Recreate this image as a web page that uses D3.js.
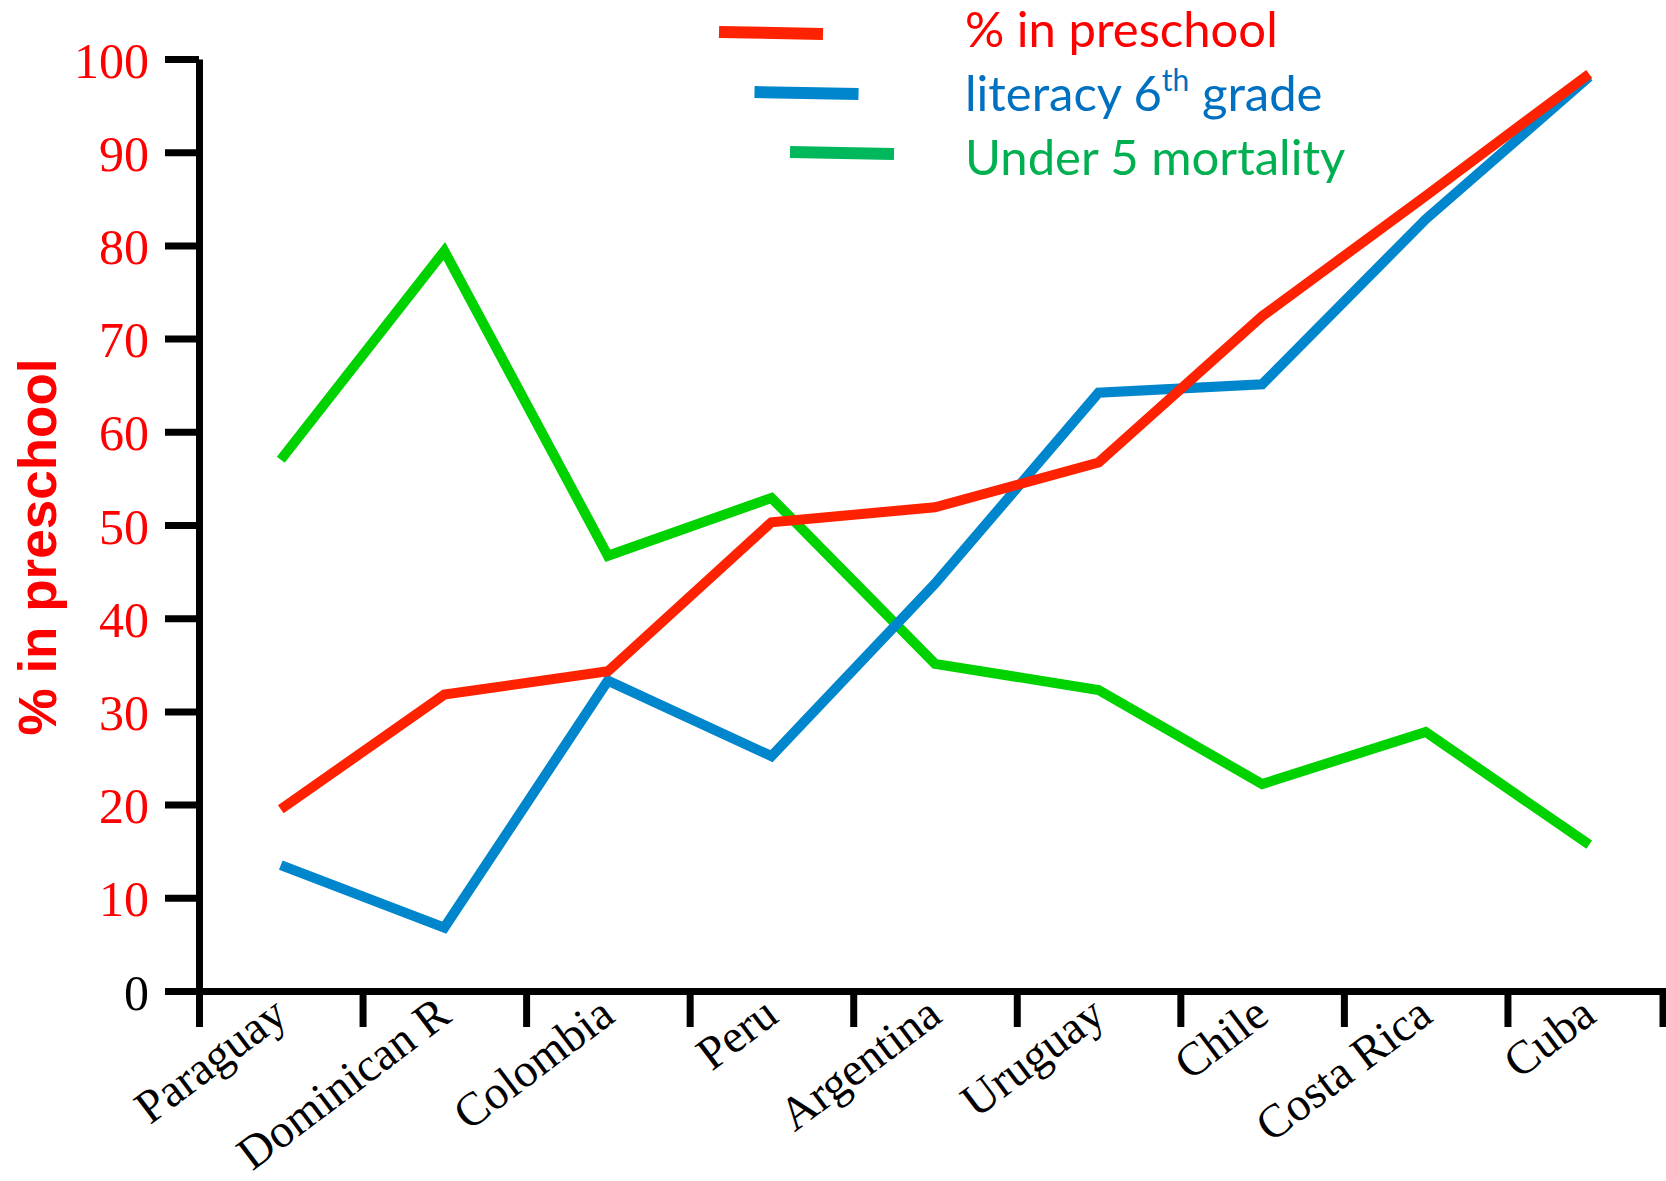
<!DOCTYPE html>
<html>
<head>
<meta charset="utf-8">
<script src="https://cdn.jsdelivr.net/npm/d3@7"></script>
<style>
  html, body { margin: 0; padding: 0; background: #ffffff; }
  svg { display: block; }
</style>
</head>
<body>
<svg id="chart" width="1666" height="1181"></svg>
<script>
// Countries along the horizontal axis
const categories = ["Paraguay", "Dominican R", "Colombia", "Peru", "Argentina",
                    "Uruguay", "Chile", "Costa Rica", "Cuba"];

// Series values (percent / rate on the shared 0–100 scale)
const preschool = [19.5, 31.8, 34.3, 50.3, 51.9, 56.7, 72.4, 85.3, 98.4];
const literacy  = [13.5, 6.8, 33.3, 25.2, 43.7, 64.2, 65.1, 82.8, 98.1];
const mortality = [57.0, 79.4, 46.7, 52.9, 35.1, 32.3, 22.2, 27.8, 15.7];

// Vertical axis tick values
const yTicks = [0, 10, 20, 30, 40, 50, 60, 70, 80, 90, 100];

// Legend entries
const legendLabels = ["% in preschool", "literacy 6th grade", "Under 5 mortality"];

const series = [
  { name: "mortality", values: mortality, color: "#00d200" },
  { name: "literacy",  values: literacy,  color: "#0086cc" },
  { name: "preschool", values: preschool, color: "#ff2200" }
];

const svg = d3.select("#chart");

// Plot frame; the last category band runs slightly past the drawn axis end
const plotLeft = 199, bandEnd = 1671, axisEnd = 1663, plotTop = 59, plotBottom = 991;

const y = d3.scaleLinear().domain([0, 100]).range([plotBottom, plotTop]);
const x = d3.scaleBand().domain(categories).range([plotLeft, bandEnd]).padding(0);
const xEdge = d3.scaleLinear().domain([0, categories.length]).range([plotLeft, bandEnd]);

// Data lines
const line = d3.line()
  .x((d, i) => x(categories[i]) + x.bandwidth() / 2)
  .y(d => y(d));

svg.append("g").selectAll("path")
  .data(series)
  .join("path")
  .attr("d", s => line(s.values))
  .attr("fill", "none")
  .attr("stroke", s => s.color)
  .attr("stroke-width", 10)
  .attr("stroke-linejoin", "miter")
  .attr("stroke-linecap", "butt");

// Y axis
const yAxis = svg.append("g")
  .attr("transform", `translate(${plotLeft},0)`)
  .call(d3.axisLeft(y).tickValues(yTicks).tickSize(34).tickSizeOuter(0).tickPadding(16));
yAxis.select(".domain").attr("stroke", "#000").attr("stroke-width", 7);
yAxis.selectAll(".tick line").attr("stroke", "#000").attr("stroke-width", 7);
yAxis.selectAll(".tick text")
  .attr("font-family", "'Liberation Serif', 'Times New Roman', serif")
  .attr("font-size", 50)
  .attr("dy", "0.36em")
  .attr("fill", d => d === 0 ? "#000000" : "#ff0000");

// X axis: ticks on category boundaries
const xAxis = svg.append("g")
  .attr("transform", `translate(0,${plotBottom})`)
  .call(d3.axisBottom(xEdge).tickValues(d3.range(categories.length))
    .tickFormat("").tickSize(36).tickSizeOuter(0));
xAxis.select(".domain").attr("stroke", "#000").attr("stroke-width", 7);
xAxis.selectAll(".tick line").attr("stroke", "#000").attr("stroke-width", 7);
// closing tick where the axis line stops
xAxis.append("line")
  .attr("x1", axisEnd).attr("x2", axisEnd)
  .attr("y1", 0).attr("y2", 36)
  .attr("stroke", "#000").attr("stroke-width", 7);

// Category labels, rotated
svg.append("g").selectAll("text")
  .data(categories)
  .join("text")
  .attr("transform", d => `translate(${x(d) + x.bandwidth() / 2 + 9},${plotBottom + 29}) rotate(-37)`)
  .attr("text-anchor", "end")
  .attr("font-family", "'Liberation Serif', 'Times New Roman', serif")
  .attr("font-size", 47)
  .attr("fill", "#000")
  .text(d => d);

// Y axis title
svg.append("text")
  .attr("transform", `translate(56,${(plotTop + plotBottom) / 2 + 22}) rotate(-90)`)
  .attr("text-anchor", "middle")
  .attr("font-family", "'Liberation Sans', Arial, sans-serif")
  .attr("font-weight", "bold")
  .attr("font-size", 53)
  .attr("fill", "#ff0000")
  .text("% in preschool");

// Legend
const legendLine = ["#ff2200", "#0086cc", "#00b85c"];
const legendText = ["#ff0000", "#0070c0", "#00b050"];
const legend = svg.append("g");
legendLabels.forEach((label, i) => {
  const ly = 32 + 60 * i;
  const lx = 719 + 35.5 * i;
  legend.append("line")
    .attr("x1", lx).attr("y1", ly)
    .attr("x2", lx + 104).attr("y2", ly + 2)
    .attr("stroke", legendLine[i])
    .attr("stroke-width", 12);

  const t = legend.append("text")
    .attr("x", 965)
    .attr("y", 47 + 64 * i)
    .attr("font-family", "Lato, 'Open Sans', sans-serif")
    .attr("font-size", 49)
    .attr("fill", legendText[i]);
  if (label.includes("6th")) {
    t.append("tspan").text("literacy 6");
    t.append("tspan").attr("font-size", 30).attr("dy", -20).text("th");
    t.append("tspan").attr("dy", 20).text(" grade");
  } else {
    t.text(label);
  }
});
</script>
</body>
</html>
